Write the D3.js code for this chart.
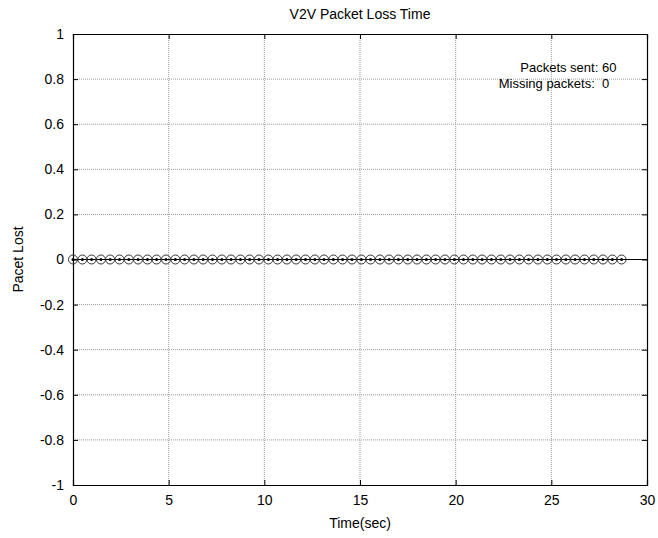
<!DOCTYPE html>
<html>
<head>
<meta charset="utf-8">
<script src="https://cdn.jsdelivr.net/npm/d3@7"></script>
<style>
  html, body { margin: 0; padding: 0; background: #fff; }
  svg { display: block; font-family: "Liberation Sans", Arial, sans-serif; }
</style>
</head>
<body>
<svg id="chart" width="658" height="538"></svg>
<script>
// Packet arrival times (seconds) and loss flags for each received packet
const times = [0, 0.49, 0.97, 1.46, 1.94, 2.43, 2.92, 3.40, 3.89, 4.37,
  4.86, 5.35, 5.83, 6.32, 6.80, 7.29, 7.78, 8.26, 8.75, 9.23,
  9.72, 10.21, 10.69, 11.18, 11.66, 12.15, 12.64, 13.12, 13.61, 14.09,
  14.58, 15.07, 15.55, 16.04, 16.52, 17.01, 17.50, 17.98, 18.47, 18.95,
  19.44, 19.93, 20.41, 20.90, 21.38, 21.87, 22.36, 22.84, 23.33, 23.81,
  24.30, 24.79, 25.27, 25.76, 26.24, 26.73, 27.22, 27.70, 28.19, 28.67];
const lost = [0, 0, 0, 0, 0, 0, 0, 0, 0, 0,
  0, 0, 0, 0, 0, 0, 0, 0, 0, 0,
  0, 0, 0, 0, 0, 0, 0, 0, 0, 0,
  0, 0, 0, 0, 0, 0, 0, 0, 0, 0,
  0, 0, 0, 0, 0, 0, 0, 0, 0, 0,
  0, 0, 0, 0, 0, 0, 0, 0, 0, 0];
const xTicks = [0, 5, 10, 15, 20, 25, 30];
const yTicks = [-1, -0.8, -0.6, -0.4, -0.2, 0, 0.2, 0.4, 0.6, 0.8, 1];
const packetsSent = 60;
const missingPackets = 0;

const svg = d3.select("#chart");
const m = { left: 73, right: 11, top: 34, bottom: 53 };
const W = 658, H = 538;
const x = d3.scaleLinear().domain([0, 30]).range([m.left, W - m.right]);
const y = d3.scaleLinear().domain([-1, 1]).range([H - m.bottom, m.top]);

// dotted grid
const grid = svg.append("g");
grid.selectAll("line.gx").data(xTicks.slice(1, -1)).join("line")
  .attr("x1", d => x(d)).attr("x2", d => x(d))
  .attr("y1", y(-1)).attr("y2", y(1))
  .attr("stroke", "#999").attr("stroke-width", 1).attr("stroke-dasharray", "1,1");
grid.selectAll("line.gy").data(yTicks.slice(1, -1)).join("line")
  .attr("y1", d => y(d)).attr("y2", d => y(d))
  .attr("x1", x(0)).attr("x2", x(30))
  .attr("stroke", "#999").attr("stroke-width", 1).attr("stroke-dasharray", "1,1");

// axes with inward ticks on all four sides
const fmt = d => String(d);
svg.append("g").attr("transform", `translate(0,${y(-1)})`)
  .call(d3.axisBottom(x).tickValues(xTicks).tickSize(-5).tickPadding(10).tickFormat(fmt));
svg.append("g").attr("transform", `translate(0,${y(1)})`)
  .call(d3.axisTop(x).tickValues(xTicks).tickSize(-5).tickFormat(""));
svg.append("g").attr("transform", `translate(${x(0)},0)`)
  .call(d3.axisLeft(y).tickValues(yTicks).tickSize(-5).tickPadding(9).tickFormat(fmt));
svg.append("g").attr("transform", `translate(${x(30)},0)`)
  .call(d3.axisRight(y).tickValues(yTicks).tickSize(-5).tickFormat(""));
svg.selectAll(".domain").attr("stroke", "#000").attr("stroke-width", 1.2);
svg.selectAll(".tick line").attr("stroke", "#000");
svg.selectAll(".tick text").attr("font-size", 14).attr("fill", "#000")
  .attr("font-family", "Liberation Sans, Arial, sans-serif");

// zero reference line across the plot
svg.append("line")
  .attr("x1", x(0)).attr("x2", x(30)).attr("y1", y(0)).attr("y2", y(0))
  .attr("stroke", "#000").attr("stroke-width", 1.2);

// packet markers
const pts = svg.append("g").selectAll("g").data(times.map((t, i) => [t, lost[i]])).join("g")
  .attr("transform", d => `translate(${x(d[0])},${y(d[1])})`);
pts.append("circle").attr("r", 4.5).attr("fill", "none")
  .attr("stroke", "#333").attr("stroke-width", 1);
pts.append("circle").attr("r", 1.5).attr("fill", "#000");

// annotations
svg.append("text").attr("x", x(28.4)).attr("y", y(0.8) - 7)
  .attr("text-anchor", "end").attr("font-size", 13).text(`Packets sent: ${packetsSent}`);
svg.append("text").attr("x", x(22.25)).attr("y", y(0.8) + 9)
  .attr("text-anchor", "start").attr("font-size", 13).attr("xml:space", "preserve")
  .text(`Missing packets:  ${missingPackets}`);

// titles
svg.append("text").attr("x", (x(0) + x(30)) / 2).attr("y", 19)
  .attr("text-anchor", "middle").attr("font-size", 14).text("V2V Packet Loss Time");
svg.append("text").attr("x", (x(0) + x(30)) / 2).attr("y", 528)
  .attr("text-anchor", "middle").attr("font-size", 14).text("Time(sec)");
svg.append("text").attr("transform", `translate(23,${(y(-1) + y(1)) / 2}) rotate(-90)`)
  .attr("text-anchor", "middle").attr("font-size", 14).text("Pacet Lost");
</script>
</body>
</html>
